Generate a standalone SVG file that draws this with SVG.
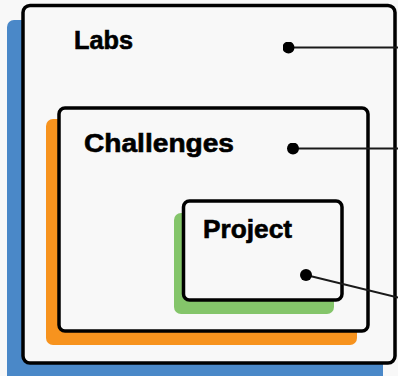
<svg xmlns="http://www.w3.org/2000/svg" width="398" height="376" viewBox="0 0 398 376">
<defs>
<style>
.box{fill:#f8f8f8;stroke:#000;stroke-width:3.5}
.lbl{font-family:"Liberation Sans",Arial,sans-serif;font-weight:700;font-size:25px;fill:#000;stroke:#000;stroke-width:0.6}
.conn{stroke:#1a1a1a;stroke-width:2;fill:none}
</style>
<marker id="dot" viewBox="0 0 12 12" refX="6" refY="6" markerWidth="12" markerHeight="12" markerUnits="userSpaceOnUse">
<circle cx="6" cy="6" r="6" fill="#000"/>
</marker>
</defs>
<rect width="398" height="376" fill="#f8f8f8"/>
<g id="labs">
<rect x="7" y="20" width="376" height="362" rx="7" fill="#4a88c8"/>
<rect class="box" x="23" y="5.5" width="372" height="357.5" rx="7"/>
<text class="lbl" x="74" y="49.3" textLength="59" lengthAdjust="spacingAndGlyphs">Labs</text>
</g>
<g id="challenges">
<rect x="46" y="119" width="311" height="226" rx="7" fill="#f7931e"/>
<rect class="box" x="59" y="108" width="309" height="223" rx="6"/>
<text class="lbl" x="84" y="151.7" textLength="150" lengthAdjust="spacingAndGlyphs">Challenges</text>
</g>
<g id="project">
<rect x="174" y="213" width="160" height="101" rx="7" fill="#84c56a"/>
<rect class="box" x="183.5" y="201" width="158.5" height="99" rx="6"/>
<text class="lbl" x="203" y="237.7" textLength="89" lengthAdjust="spacingAndGlyphs">Project</text>
</g>
<g id="connectors">
<line class="conn" x1="288.5" y1="47.5" x2="398" y2="47.5" marker-start="url(#dot)"/>
<line class="conn" x1="293" y1="148.5" x2="398" y2="148.5" marker-start="url(#dot)"/>
<line class="conn" x1="306" y1="275" x2="398" y2="297.5" marker-start="url(#dot)"/>
</g>
</svg>
